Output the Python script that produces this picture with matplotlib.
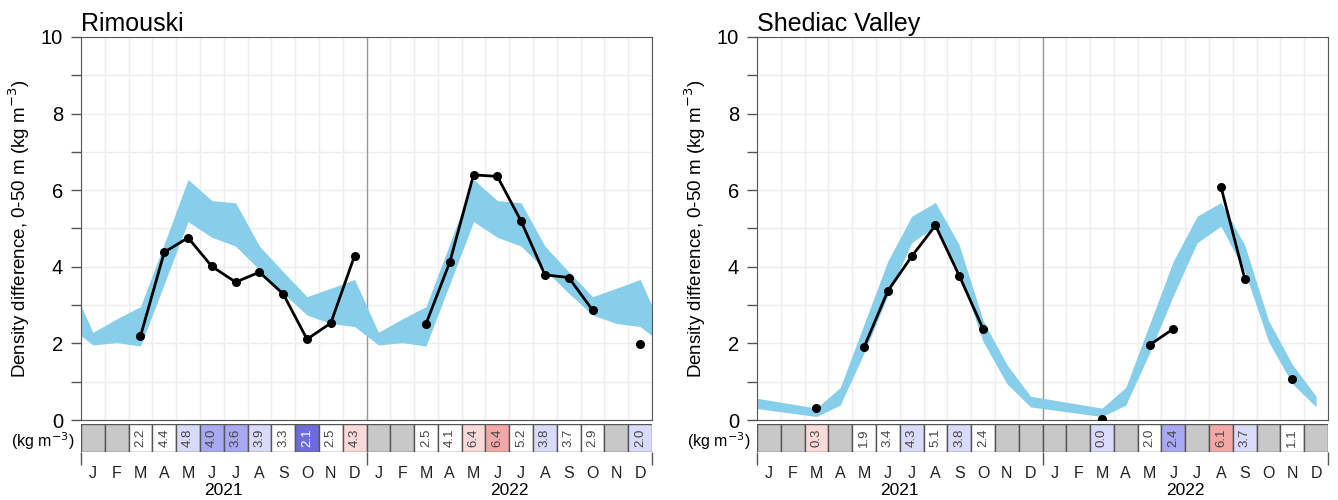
import numpy as np
import matplotlib.pyplot as plt
from matplotlib import transforms

plt.rcParams['font.family'] = ['Liberation Sans', 'DejaVu Sans']
nan = np.nan

# ---------------------------------------------------------------
# data
# ---------------------------------------------------------------
MONTHS = ['J', 'F', 'M', 'A', 'M', 'J', 'J', 'A', 'S', 'O', 'N', 'D']
YEARS = ['2021', '2022']

# climatology band (upper / lower), Jan..Dec
rim_clim_hi = [2.29, 2.64, 2.96, 4.60, 6.28, 5.73, 5.67, 4.54, 3.87, 3.22, 3.44, 3.67]
rim_clim_lo = [1.96, 2.02, 1.93, 3.55, 5.18, 4.77, 4.54, 3.92, 3.31, 2.74, 2.52, 2.44]
she_clim_hi = [nan, nan, 0.31, 0.85, 2.50, 4.15, 5.32, 5.68, 4.57, 2.60, 1.45, 0.62]
she_clim_lo = [nan, nan, 0.09, 0.39, 1.75, 3.25, 4.63, 5.06, 3.88, 2.05, 0.95, 0.34]

# monthly observations, Jan 2021 .. Dec 2022
rim_obs = [nan, nan, 2.19, 4.38, 4.76, 4.01, 3.60, 3.86, 3.29, 2.11, 2.53, 4.29,
           nan, nan, 2.51, 4.12, 6.40, 6.36, 5.19, 3.79, 3.72, 2.87, nan, 1.99]
she_obs = [nan, nan, 0.32, nan, 1.90, 3.37, 4.27, 5.08, 3.77, 2.38, nan, nan,
           nan, nan, 0.02, nan, 1.96, 2.38, nan, 6.09, 3.69, nan, 1.07, nan]

# standardized anomalies (colour of the scorecard cells)
rim_anom = [nan, nan, 0.0, 0.0, -0.7, -1.4, -1.2, -0.6, 0.0, -2.3, 0.0, 0.7,
            nan, nan, 0.0, 0.0, 0.8, 1.4, 0.0, -0.6, 0.0, 0.0, nan, -0.6]
she_anom = [nan, nan, 0.7, nan, 0.0, 0.0, -0.6, 0.0, -0.6, 0.0, nan, nan,
            nan, nan, -0.6, nan, 0.0, -1.4, nan, 1.4, -0.6, nan, 0.0, nan]

# ---------------------------------------------------------------
# styles
# ---------------------------------------------------------------
W, H = 1338, 500
BAND = '#87CEEB'
GRID = '#EDEDED'
AXC = '#555555'


def cell_colour(a):
    if np.isnan(a):
        return '#C8C8C8'
    if a <= -2:
        return '#6C6CDA'
    if a <= -1:
        return '#A8A8F3'
    if a <= -0.5:
        return '#DADAFB'
    if a < 0.5:
        return 'white'
    if a < 1:
        return '#FDDADA'
    return '#F4A7A7'


def panel(fig, left_px, name, clim_hi, clim_lo, obs, anom):
    ax = fig.add_axes([left_px / W, (H - 420) / H, 571 / W, 383 / H])
    sx = fig.add_axes([left_px / W, (H - 452) / H, 571 / W, 28 / H])

    # band: previous December .. next January, gaps dropped
    hi = np.array(clim_hi[-1:] + clim_hi * 2 + clim_hi[:1])
    lo = np.array(clim_lo[-1:] + clim_lo * 2 + clim_lo[:1])
    xb = np.arange(-1, 25) + 0.5
    ok = ~np.isnan(hi)
    ax.fill_between(xb[ok], lo[ok], hi[ok], color=BAND, lw=0, zorder=2)

    x = np.arange(24) + 0.5
    ax.plot(x, obs, '-o', color='black', lw=2, ms=5.5, zorder=3)

    ax.set_xlim(0, 24)
    ax.set_ylim(0, 10)
    ax.set_xticks(range(25))
    ax.tick_params(axis='x', length=0, labelbottom=False)
    ax.set_yticks(range(0, 11, 2))
    ax.set_yticks(range(1, 10, 2), minor=True)
    ax.tick_params(axis='y', which='both', length=7, width=1, color=AXC,
                   labelsize=14.5, pad=6)
    ax.grid(True, which='both', color=GRID, lw=1)
    ax.set_axisbelow(True)
    ax.axvline(12, color='#9A9A9A', lw=1, zorder=1)
    for s in ax.spines.values():
        s.set_color(AXC)
    ax.set_title(name, loc='left', fontsize=18, pad=4)
    ax.set_ylabel('Density difference, 0-50 m (kg m$^{-3}$)', fontsize=13.5, labelpad=6)

    # scorecard strip
    cols = [cell_colour(a) for a in anom]
    sx.bar(x, np.ones(24), width=1, color=cols, edgecolor=AXC, linewidth=1)
    for xi, v, a in zip(x, obs, anom):
        if np.isnan(v):
            continue
        tc = 'white' if a <= -2 else '#444444'
        sx.text(xi, 0.5, f'{v:.1f}', rotation=90, ha='center', va='center',
                fontsize=9.5, color=tc)
    sx.set_xlim(0, 24)
    sx.set_ylim(0, 1)
    for s in sx.spines.values():
        s.set_visible(False)
    sx.set_yticks([])
    sx.set_xticks(x, labels=MONTHS * 2)
    sx.set_xticks([0, 12, 24], minor=True)
    sx.tick_params(axis='x', which='major', length=0, pad=10, labelsize=11.5,
                   labelcolor='#222222')
    sx.tick_params(axis='x', which='minor', length=9, width=1, color=AXC)
    tr = transforms.blended_transform_factory(sx.transData, sx.transAxes)
    for i, yr in enumerate(YEARS):
        sx.text(6 + 12 * i, -1.36, yr, transform=tr, ha='center', va='center', fontsize=12.5)
    sx.text(-0.012, 0.4, '(kg m$^{-3}$)', transform=sx.transAxes, ha='right', va='center',
            fontsize=11.5)
    return ax


fig = plt.figure(figsize=(W / 100, H / 100), dpi=100)
panel(fig, 81, 'Rimouski', rim_clim_hi, rim_clim_lo, rim_obs, rim_anom)
panel(fig, 757, 'Shediac Valley', she_clim_hi, she_clim_lo, she_obs, she_anom)
fig.savefig('out.png', dpi=100)
